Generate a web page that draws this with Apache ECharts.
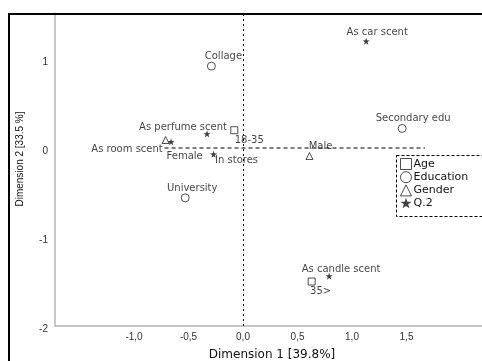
<!DOCTYPE html>
<html>
<head>
<meta charset="utf-8">
<script src="https://cdn.jsdelivr.net/npm/echarts@6/dist/echarts.min.js"></script>
<style>
html,body{margin:0;padding:0;background:#fff;}
#chart{width:482px;height:361px;}
</style>
</head>
<body>
<div id="chart"></div>
<script>
// ---- data ----
var ageNames = ['18-35', '35>'];
var ageX = [-0.08, 0.63];
var ageY = [0.20, -1.50];

var eduNames = ['Collage', 'Secondary edu', 'University'];
var eduX = [-0.29, 1.46, -0.53];
var eduY = [0.92, 0.22, -0.56];

var genderNames = ['Female', 'Male'];
var genderX = [-0.71, 0.61];
var genderY = [0.09, -0.09];

var q2Names = ['As car scent', 'As perfume scent', 'As room scent', 'In stores', 'As candle scent'];
var q2X = [1.13, -0.33, -0.66, -0.27, 0.79];
var q2Y = [1.20, 0.16, 0.07, -0.07, -1.44];

var seriesNames = ['Age', 'Education', 'Gender', 'Q.2'];
var xTicks = [-1.0, -0.5, 0.0, 0.5, 1.0, 1.5];
var yTicks = [-2, -1, 0, 1];
var hRefX = [-0.72, 1.67];   // extent of the dashed y=0 reference line
var hRefY = [0, 0];

var xName = 'Dimension 1 [39.8%]';
var yName = 'Dimension 2 [33.5 %]';

// ---- styling (label offsets relative to symbol centre) ----
var labelOffset = {
  '18-35': [15, 10], '35>': [9, 10],
  'Collage': [12, -10], 'Secondary edu': [11, -10], 'University': [7, -9],
  'Female': [19, 16], 'Male': [11, -10],
  'As car scent': [11, -9], 'As perfume scent': [-24, -6], 'As room scent': [-44, 8],
  'In stores': [23, 6], 'As candle scent': [12, -7]
};

var labelFont = 'DejaVu Sans';

function build(names, xs, ys) {
  return names.map(function (n, i) {
    return {
      name: n,
      value: [xs[i], ys[i]],
      label: {
        show: true,
        position: 'inside',
        offset: labelOffset[n] || [0, -10],
        formatter: '{b}',
        color: '#111',
        fontSize: 10,
        fontFamily: labelFont
      }
    };
  });
}

var starPath = 'path://M0,-10 L2.35,-3.24 9.51,-3.09 3.8,1.24 5.88,8.09 0,4 -5.88,8.09 -3.8,1.24 -9.51,-3.09 -2.35,-3.24Z';
var hollow = {color: '#fff', borderColor: '#222', borderWidth: 1};

var chart = echarts.init(document.getElementById('chart'), null, {renderer: 'canvas'});

var gridTop = 13, gridBottom = 35, gridLeft = 55;

chart.setOption({
  backgroundColor: '#fff',
  animation: false,
  grid: {left: gridLeft, right: 0, top: gridTop, bottom: gridBottom, containLabel: false},
  xAxis: {
    type: 'value',
    min: -1.7248, max: 2.1927,
    axisLine: {show: true, onZero: false, lineStyle: {color: '#b4b4b4', width: 1.5}},
    axisTick: {show: false},
    splitLine: {show: false},
    axisLabel: {
      customValues: xTicks,
      margin: 6,
      fontSize: 10,
      fontFamily: 'Liberation Sans',
      color: '#333',
      formatter: function (v) { return v.toFixed(1).replace('.', ','); }
    }
  },
  yAxis: {
    type: 'value',
    min: -2, max: 1.517,
    axisLine: {show: true, onZero: false, lineStyle: {color: '#b4b4b4', width: 1.5}},
    axisTick: {show: false},
    splitLine: {show: false},
    axisLabel: {
      customValues: yTicks,
      margin: 7,
      fontSize: 10,
      fontFamily: 'Liberation Sans',
      color: '#333',
      verticalAlign: 'top',
      lineHeight: 6,
      formatter: function (v) { return String(v); }
    }
  },
  legend: {
    data: seriesNames,
    orient: 'vertical',
    left: 400,
    top: 158,
    itemWidth: 11,
    itemHeight: 11,
    itemGap: 1.2,
    padding: 0,
    itemStyle: {borderWidth: 1},
    textStyle: {fontSize: 11, fontFamily: 'DejaVu Sans', color: '#111', padding: [0, 0, 0, -3]}
  },
  series: [
    {
      name: 'ref',
      type: 'line',
      data: hRefX.map(function (x, i) { return [x, hRefY[i]]; }),
      symbol: 'none',
      lineStyle: {color: '#000', width: 1, type: [4, 3]},
      silent: true,
      z: 1,
      markLine: {
        silent: true,
        symbol: 'none',
        label: {show: false},
        lineStyle: {color: '#000', width: 1, type: [2, 3]},
        data: [{xAxis: 0}]
      }
    },
    {
      name: 'Age', type: 'scatter', symbol: 'rect', symbolSize: 7,
      itemStyle: hollow,
      data: build(ageNames, ageX, ageY), z: 3
    },
    {
      name: 'Education', type: 'scatter', symbol: 'circle', symbolSize: 8,
      itemStyle: hollow,
      data: build(eduNames, eduX, eduY), z: 3
    },
    {
      name: 'Gender', type: 'scatter', symbol: 'triangle', symbolSize: 7,
      itemStyle: hollow,
      data: build(genderNames, genderX, genderY), z: 3
    },
    {
      name: 'Q.2', type: 'scatter', symbol: starPath, symbolSize: 7,
      itemStyle: {color: '#111'},
      data: build(q2Names, q2X, q2Y), z: 3
    }
  ],
  graphic: [
    {
      type: 'rect', z: 100, silent: true,
      shape: {x: 9, y: 14, width: 500, height: 400},
      style: {fill: 'none', stroke: '#000', lineWidth: 2}
    },
    {
      type: 'rect', z: 100, silent: true,
      shape: {x: 396.5, y: 155.5, width: 100, height: 61},
      style: {fill: 'none', stroke: '#000', lineWidth: 1, lineDash: [3, 2]}
    },
    {
      type: 'text', z: 100, silent: true,
      x: 272, y: 355,
      style: {text: xName, font: '12px DejaVu Sans', fill: '#111', align: 'center', verticalAlign: 'middle'}
    },
    {
      type: 'text', z: 100, silent: true,
      x: 20, y: 159, rotation: Math.PI / 2,
      style: {text: yName, font: '10px Liberation Sans', fill: '#111', align: 'center', verticalAlign: 'middle'}
    }
  ]
});
</script>
</body>
</html>
